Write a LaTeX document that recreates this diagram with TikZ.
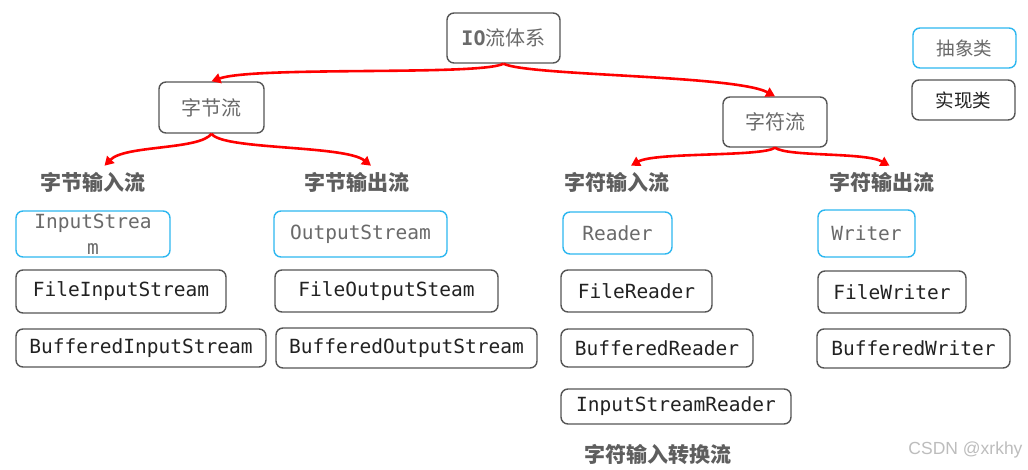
\documentclass[tikz,border=0pt]{standalone}
\usepackage{fontspec}
\setmainfont{DejaVu Sans}
\newfontfamily\cjk{Noto Sans CJK SC}
\newfontfamily\mono{DejaVu Sans Mono}
\newfontfamily\wmfont{Liberation Sans}
\usetikzlibrary{arrows.meta}
\definecolor{boxline}{HTML}{555555}
\definecolor{absline}{HTML}{2DB7F0}
\definecolor{lighttxt}{HTML}{6A6A6A}
\definecolor{darktxt}{HTML}{222222}
\definecolor{labtxt}{HTML}{5E5E5E}
\definecolor{wmark}{HTML}{BDBDBD}
\begin{document}
\begin{tikzpicture}[x=1pt,y=-1pt,
  base/.style={rectangle, rounded corners=7pt, line width=1.4pt, inner sep=0pt, align=center},
  impl/.style={base, draw=boxline, text=darktxt, font=\mono\fontsize{19.5}{26}\selectfont},
  abst/.style={base, draw=absline, text=lighttxt, font=\mono\fontsize{19.5}{26}\selectfont},
  cat/.style={base, draw=boxline, text=lighttxt, font=\cjk\fontsize{20}{24}\selectfont},
  lab/.style={inner sep=0pt, text=labtxt, font=\cjk\bfseries\fontsize{21}{24}\selectfont},
  arr/.style={draw=red, line width=2.6pt, -{Triangle[length=9pt,width=10pt]}}
]
\fill[white] (0,0) rectangle (1028,469);
\path[use as bounding box] (0,0) rectangle (1028,469);

% top level
\node[cat, minimum width=113pt, minimum height=50pt] (io) at (503.5,38) {{\mono\bfseries IO}流体系};
\node[cat, minimum width=105pt, minimum height=51pt] (zj) at (211.5,107.5) {字节流};
\node[cat, minimum width=104pt, minimum height=50pt] (zf) at (775,122) {字符流};

% legend
\node[base, draw=absline, text=lighttxt, font=\cjk\fontsize{18.5}{22}\selectfont, minimum width=103pt, minimum height=40pt] (lgA) at (964.5,48) {抽象类};
\node[base, draw=boxline, text=darktxt, font=\cjk\fontsize{18.5}{22}\selectfont, minimum width=103pt, minimum height=40pt] (lgB) at (963.5,100) {实现类};

% category labels
\node[lab] (l1) at (92.5,182) {字节输入流};
\node[lab] (l2) at (357,182) {字节输出流};
\node[lab] (l3) at (617,182) {字符输入流};
\node[lab] (l4) at (881.5,182) {字符输出流};

% byte input
\node[abst, minimum width=154pt, minimum height=46pt] (is) at (93,234) {InputStrea\\m};
\node[impl, minimum width=210pt, minimum height=43pt] (fis) at (121,291.5) {FileInputStream};
\node[impl, minimum width=250pt, minimum height=38pt] (bis) at (141,348) {BufferedInputStream};

% byte output
\node[abst, minimum width=173pt, minimum height=46pt] (os) at (360.5,234) {OutputStream};
\node[impl, minimum width=223pt, minimum height=42pt] (fos) at (386.5,291) {FileOutputSteam};
\node[impl, minimum width=261pt, minimum height=40pt] (bos) at (406.5,348) {BufferedOutputStream};

% char input
\node[abst, minimum width=109pt, minimum height=42pt] (rd) at (617.5,233) {Reader};
\node[impl, minimum width=151pt, minimum height=42pt] (frd) at (636.5,291) {FileReader};
\node[impl, minimum width=192pt, minimum height=38pt] (brd) at (657,348) {BufferedReader};
\node[impl, minimum width=230pt, minimum height=35pt] (isr) at (676,406.5) {InputStreamReader};
\node[lab] (l5) at (657.5,455) {字符输入转换流};

% char output
\node[abst, minimum width=97pt, minimum height=47pt] (wr) at (866.5,233.5) {Writer};
\node[impl, minimum width=148pt, minimum height=42pt] (fwr) at (892,292) {FileWriter};
\node[impl, minimum width=193pt, minimum height=39pt] (bwr) at (913.5,348.5) {BufferedWriter};

% watermark
\node[inner sep=0pt, text=wmark, font=\wmfont\fontsize{17.5}{20}\selectfont] (wm) at (965.5,450) {CSDN @xrkhy};

% arrows
\draw[arr] (io.south) .. controls (480,76) and (255,66) .. (zj.north);
\draw[arr] (io.south) .. controls (528,76) and (735,75) .. (zf.north);
\draw[arr] (zj.south) .. controls (200,150) and (125,145) .. ([xshift=12pt,yshift=6pt]l1.north);
\draw[arr] (zj.south) .. controls (222,150) and (345,145) .. ([xshift=14pt,yshift=6pt]l2.north);
\draw[arr] (zf.south) .. controls (762,157) and (655,152) .. ([xshift=14pt,yshift=6pt]l3.north);
\draw[arr] (zf.south) .. controls (788,157) and (865,152) .. ([xshift=8pt,yshift=6pt]l4.north);
\end{tikzpicture}
\end{document}
